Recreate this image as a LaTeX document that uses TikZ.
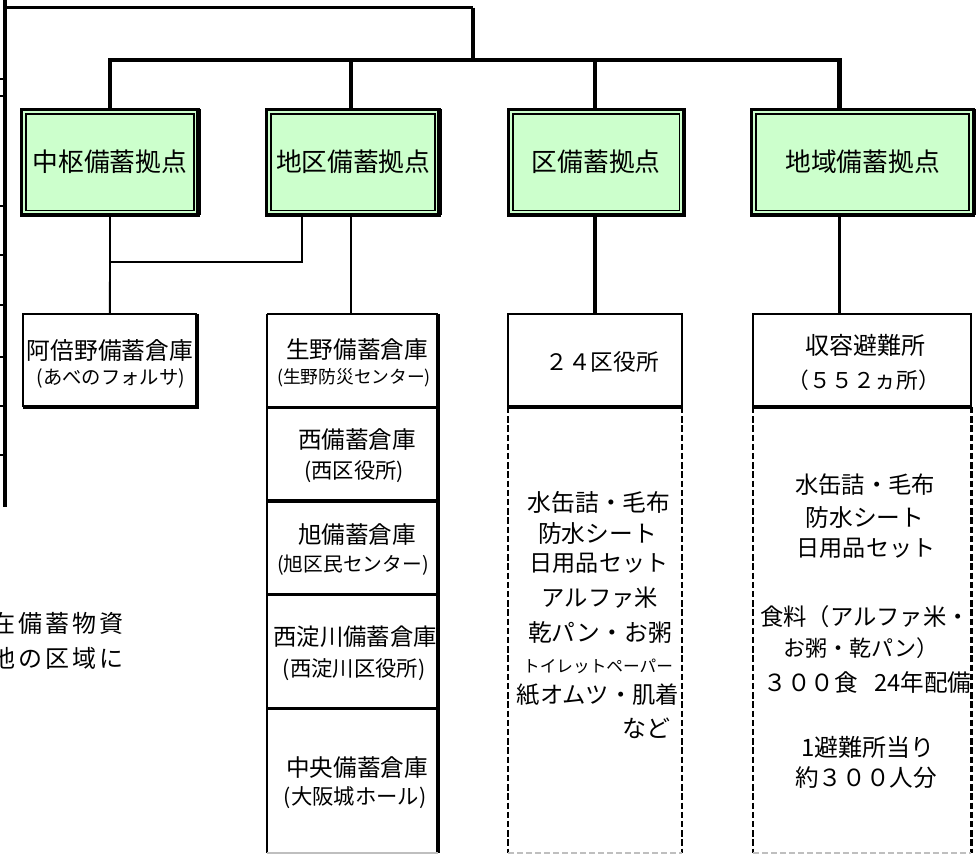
\documentclass[tikz,border=0pt]{standalone}
\usepackage{fontspec}
\setmainfont{Noto Sans CJK JP}
\newfontfamily\spfont[LetterSpace=12.5]{Noto Sans CJK JP}
\newcommand\myfs[1]{\fontsize{#1pt}{#1pt}\selectfont}
\definecolor{gfill}{HTML}{CCFFCC}
\begin{document}
\begin{tikzpicture}[x=0.75pt,y=-0.75pt,
  every node/.style={inner sep=0pt,outer sep=0pt},
  gbox/.style={fill=gfill,minimum height=79.35pt},
  lbl/.style={anchor=center},
  dline/.style={line width=1.8pt,dash pattern=on 4.8pt off 2.1pt},
  gline/.style={line width=1.2pt,draw=black!25,dash pattern=on 4.5pt off 2.25pt}]
\useasboundingbox (0,0) rectangle (976,855);

% cut-off table on the left
\coordinate (lt) at (5,0);
\coordinate (lb) at (5,507);
\draw[line width=3pt] (lt) -- (lb);
\foreach \y in {79,96,206,255,305,357,406,455} \draw[line width=1.1pt] (0,\y) -- (5,\y);

% green boxes
\node[gbox,minimum width=132.45pt] (g1) at (110,162.1) {\myfs{19.3}中枢備蓄拠点};
\node[gbox,minimum width=129.75pt] (g2) at (353.2,162.1) {\myfs{19.3}地区備蓄拠点};
\node[gbox,minimum width=131.8pt] (g3) at (596.2,162.1) {\myfs{19.3}区備蓄拠点};
\node[gbox,minimum width=166.9pt] (g4) at (862.6,162.1) {\myfs{19.3}地域備蓄拠点};
\foreach \n in {g1,g2,g3,g4}{
  \draw[line width=2.3pt] (\n.north west) rectangle (\n.south east);
  \draw[line width=1.3pt] ([shift={(4.6,4.6)}]\n.north west) rectangle ([shift={(-4.6,-4.6)}]\n.south east);
  \draw[line width=3.4pt] (\n.north east) -- (\n.south east);
}

% top connectors
\coordinate (tl) at (5,7.7);
\coordinate (tj) at (473,7.7);
\coordinate (bj) at (473,60);
\coordinate (be) at (839.3,60);
\coordinate (b2) at (351,60);
\coordinate (b3) at (595,60);
\draw[line width=2.25pt] (tl) -- (tj);
\draw[line width=3pt] (tj) -- (bj);
\draw[line width=3.6pt] (g1.north) -- (g1.north |- bj) -- (be) -- (be |- g4.north);
\draw[line width=3.2pt] (b2) -- (b2 |- g2.north);
\draw[line width=3.2pt] (b3) -- (b3 |- g3.north);

% lower boxes (shapes)
\node[minimum width=130.65pt,minimum height=69.9pt] (w1) at (109.9,360.4) {};
\node[minimum width=128.25pt,minimum height=70.1pt] (s1) at (352.5,360.55) {};
\node[minimum width=128.25pt,minimum height=70.3pt] (s2) at (352.5,454.15) {};
\node[minimum width=128.25pt,minimum height=70.3pt] (s3) at (352.5,547.85) {};
\node[minimum width=128.25pt,minimum height=85.2pt] (s4) at (352.5,651.5) {};
\node[minimum width=128.25pt,minimum height=108.5pt] (s5) at (352.5,780.65) {};
\node[minimum width=130.3pt,minimum height=69.9pt] (d1) at (595.15,360.4) {};
\node[minimum width=130.3pt,minimum height=334.5pt] (d2) at (595.15,630) {};
\node[minimum width=163.9pt,minimum height=69.9pt] (e1) at (862.05,360.4) {};
\node[minimum width=163.9pt,minimum height=334.5pt] (e2) at (862.05,630) {};

% lower connectors
\coordinate (k) at (302,262.3);
\coordinate (sx) at (351,0);
\coordinate (dx) at (595,0);
\coordinate (ex) at (839.3,0);
\draw[line width=1.4pt] (g1.south) -- (w1.north);
\draw[line width=1.4pt] (k |- g2.south) -- (k) -- (k -| g1.south);
\draw[line width=1.4pt] (sx |- g2.south) -- (sx |- s1.north);
\draw[line width=3pt] (dx |- g3.south) -- (dx |- d1.north);
\draw[line width=2.4pt] (ex |- g4.south) -- (ex |- e1.north);

% borders
\draw[line width=1.7pt] (w1.north east) -- (w1.north west) -- (w1.south west);
\draw[line width=3pt] (w1.north east) -- (w1.south east) -- (w1.south west);
\draw[line width=2pt] (s1.north west) -- (s5.south west);
\draw[line width=3pt] (s1.north east) -- (s5.south east);
\draw[line width=1.7pt] (s1.north west) -- (s1.north east);
\foreach \n in {s1,s2,s3,s4} \draw[line width=2.4pt] (\n.south west) -- (\n.south east);
\draw[line width=1.2pt,draw=black!25] (s5.south west) -- (s5.south east);
\foreach \n in {d1,e1}{
  \draw[line width=1.6pt] (\n.south west) -- (\n.north west) -- (\n.north east) -- (\n.south east);
  \draw[line width=2.8pt] (\n.south west) -- (\n.south east);
}
\foreach \n in {d2,e2}{
  \draw[dline] (\n.north west) -- (\n.south west);
  \draw[dline] (\n.north east) -- (\n.south east);
  \draw[gline] (\n.south west) -- (\n.south east);
}

% texts: 阿倍野
\node[lbl] (w1a) at (110,350) {\myfs{17.8}阿倍野備蓄倉庫};
\node[lbl] (w1b) at (111,378) {\myfs{14.5}(あべのフォルサ)};
% stack
\node[lbl] (s1a) at (357,350) {\myfs{17.7}生野備蓄倉庫};
\node[lbl] (s1b) at (354,378) {\myfs{13.3}(生野防災センター)};
\node[lbl] (s2a) at (357,440) {\myfs{17.7}西備蓄倉庫};
\node[lbl] (s2b) at (354,472) {\myfs{16}(西区役所)};
\node[lbl] (s3a) at (357,535) {\myfs{17.7}旭備蓄倉庫};
\node[lbl] (s3b) at (353,565) {\myfs{14.8}(旭区民センター)};
\node[lbl] (s4a) at (355,637) {\myfs{17.5}西淀川備蓄倉庫};
\node[lbl] (s4b) at (354,670) {\myfs{16}(西淀川区役所)};
\node[lbl] (s5a) at (357,768) {\myfs{17.7}中央備蓄倉庫};
\node[lbl] (s5b) at (355,798) {\myfs{16}(大阪城ホール)};
% 区
\node[lbl] (d1a) at (602,362) {\myfs{17}２４区役所};
\node[lbl] (d2a) at (599,502) {\myfs{17.8}水缶詰・毛布};
\node[lbl] (d2b) at (597.5,533) {\myfs{17.8}防水シート};
\node[lbl] (d2c) at (599,563) {\myfs{17.3}日用品セット};
\node[lbl] (d2d) at (600,598) {\myfs{17.5}アルファ米};
\node[lbl] (d2e) at (600,632) {\myfs{17.8}乾パン・お粥};
\node[lbl] (d2f) at (598,666) {\myfs{12.5}トイレットペーパー};
\node[lbl] (d2g) at (598,695) {\myfs{17.5}紙オムツ・肌着};
\node[anchor=east] (d2h) at (670,728) {\myfs{18}など};
% 地域
\node[lbl] (e1a) at (865,345) {\myfs{18}収容避難所};
\node[lbl] (e1b) at (864,380) {\myfs{16.3}（５５２ヵ所）};
\node[lbl] (e2a) at (865,485) {\myfs{17.5}水缶詰・毛布};
\node[lbl] (e2b) at (865,517) {\myfs{17.8}防水シート};
\node[lbl] (e2c) at (866,548) {\myfs{17.3}日用品セット};
\node[lbl] (e2d) at (865,617) {\myfs{17.5}食料（アルファ米・};
\node[lbl] (e2e) at (861,648) {\myfs{16.5}お粥・乾パン）};
\node[lbl] (e2f) at (867.5,682) {\myfs{17.7}３００食\hspace{0.7em}24年配備};
\node[lbl] (e2g) at (868,747) {\myfs{18}1避難所当り};
\node[lbl] (e2h) at (866,778) {\myfs{17.7}約３００人分};

% cut-off text on the left (the reference shows it cut by the edge)
\node[anchor=east] (lt1) at (124,623) {\spfont\myfs{18}在備蓄物資};
\node[anchor=east] (lt2) at (124,658) {\spfont\myfs{18}他の区域に};
\end{tikzpicture}
\end{document}
